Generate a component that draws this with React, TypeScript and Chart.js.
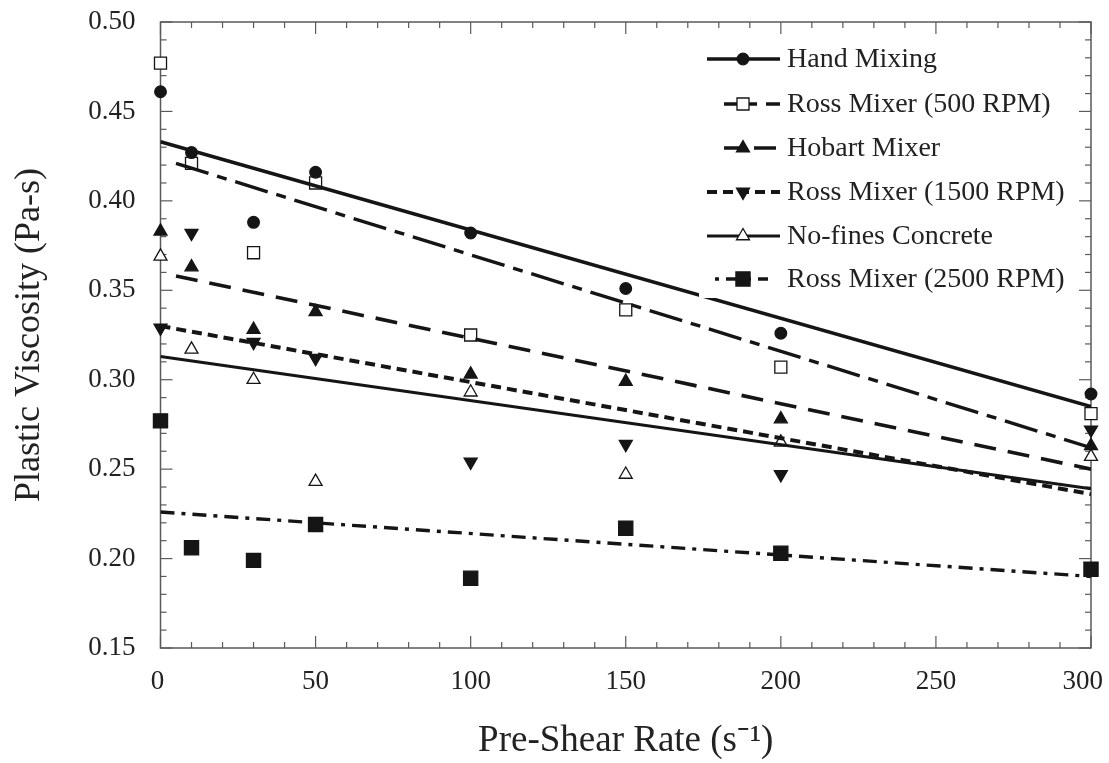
import React, { useEffect, useRef } from "react";
import { Chart, registerables } from "chart.js";

Chart.register(...registerables);

const FONT = "'Liberation Serif', 'Times New Roman', serif";
const INK = "#151515";

// ---- data ----
const preShearRates = [0, 10, 30, 50, 100, 150, 200, 300];
const handMixing = [0.461, 0.427, 0.388, 0.416, 0.382, 0.351, 0.326, 0.292];
const ross500 = [0.477, 0.421, 0.371, 0.410, 0.325, 0.339, 0.307, 0.281];
const hobart = [0.383, 0.363, 0.328, 0.338, 0.303, 0.299, 0.278, 0.263];
const ross1500 = [0.329, 0.382, 0.321, 0.312, 0.254, 0.264, 0.247, 0.272];
const noFines = [0.369, 0.317, 0.300, 0.243, 0.293, 0.247, 0.265, 0.257];
const ross2500 = [0.277, 0.206, 0.199, 0.219, 0.189, 0.217, 0.203, 0.194];

// linear fit lines: [start, end]
const handFitX = [0, 300];
const handFitY = [0.433, 0.285];
const ross500FitX = [5, 300];
const ross500FitY = [0.421, 0.262];
const hobartFitX = [5, 300];
const hobartFitY = [0.358, 0.25];
const ross1500FitX = [0, 300];
const ross1500FitY = [0.33, 0.236];
const noFinesFitX = [0, 300];
const noFinesFitY = [0.313, 0.239];
const ross2500FitX = [0, 300];
const ross2500FitY = [0.226, 0.19];

const seriesNames = [
  "Hand Mixing",
  "Ross Mixer (500 RPM)",
  "Hobart Mixer",
  "Ross Mixer (1500 RPM)",
  "No-fines Concrete",
  "Ross Mixer (2500 RPM)",
];
const xTicks = [0, 50, 100, 150, 200, 250, 300];
const yTicks = [0.15, 0.2, 0.25, 0.3, 0.35, 0.4, 0.45, 0.5];

// ---- styles ----
type Marker = { style: string; rotation: number; radius: number; fill: string };
const markers: Marker[] = [
  { style: "circle", rotation: 0, radius: 5.8, fill: INK },
  { style: "rect", rotation: 0, radius: 8.5, fill: "#ffffff" },
  { style: "triangle", rotation: 0, radius: 7.5, fill: INK },
  { style: "triangle", rotation: 180, radius: 7.5, fill: INK },
  { style: "triangle", rotation: 0, radius: 7.5, fill: "#ffffff" },
  { style: "rect", rotation: 0, radius: 10, fill: INK },
];
const lineDashes: number[][] = [[], [34, 9, 10, 9], [22, 12], [10, 6], [], [14, 7, 4, 7]];
const lineWidths = [3.6, 3.4, 3.6, 4, 3, 3.4];

const toPts = (xs: number[], ys: number[]) => xs.map((x, i) => ({ x, y: ys[i] }));

function drawMarker(ctx: CanvasRenderingContext2D, m: Marker, x: number, y: number) {
  ctx.save();
  ctx.setLineDash([]);
  ctx.lineWidth = 1.3;
  ctx.strokeStyle = INK;
  ctx.fillStyle = m.fill;
  ctx.beginPath();
  if (m.style === "circle") {
    ctx.arc(x, y, m.radius, 0, Math.PI * 2);
  } else if (m.style === "rect") {
    const s = Math.SQRT1_2 * m.radius;
    ctx.rect(x - s, y - s, 2 * s, 2 * s);
  } else {
    let rad = (m.rotation * Math.PI) / 180;
    ctx.moveTo(x + Math.sin(rad) * m.radius, y - Math.cos(rad) * m.radius);
    rad += (2 * Math.PI) / 3;
    ctx.lineTo(x + Math.sin(rad) * m.radius, y - Math.cos(rad) * m.radius);
    rad += (2 * Math.PI) / 3;
    ctx.lineTo(x + Math.sin(rad) * m.radius, y - Math.cos(rad) * m.radius);
    ctx.closePath();
  }
  ctx.fill();
  ctx.stroke();
  ctx.restore();
}

const framePlugin = {
  id: "frameTicks",
  beforeDatasetsDraw(chart: any) {
    const { ctx, chartArea: a, scales } = chart;
    const x = scales.x;
    const y = scales.y;
    ctx.save();
    ctx.strokeStyle = "#5a5a5a";
    ctx.lineWidth = 1.5;
    ctx.strokeRect(a.left, a.top, a.right - a.left, a.bottom - a.top);
    ctx.lineWidth = 1.2;
    const seg = (x1: number, y1: number, x2: number, y2: number) => {
      ctx.beginPath();
      ctx.moveTo(x1, y1);
      ctx.lineTo(x2, y2);
      ctx.stroke();
    };
    for (let i = 0; i <= 30; i++) {
      const px = x.getPixelForValue(i * 10);
      const len = i % 5 === 0 ? 12 : 6;
      seg(px, a.bottom, px, a.bottom - len);
      seg(px, a.top, px, a.top + len);
    }
    for (let i = 0; i <= 35; i++) {
      const py = y.getPixelForValue(0.15 + i * 0.01);
      const len = i % 5 === 0 ? 12 : 6;
      seg(a.left, py, a.left + len, py);
      seg(a.right, py, a.right - len, py);
    }
    // x tick labels (last one pulled inside the canvas, as in the reference)
    ctx.fillStyle = "#222";
    ctx.font = `27px ${FONT}`;
    ctx.textBaseline = "middle";
    xTicks.forEach((v, i) => {
      const px = x.getPixelForValue(v);
      if (i === xTicks.length - 1) {
        ctx.textAlign = "right";
        ctx.fillText(String(v), px + 12, a.bottom + 34);
      } else {
        ctx.textAlign = "center";
        ctx.fillText(String(v), px - (i === 0 ? 3 : 0), a.bottom + 34);
      }
    });
    ctx.restore();
  },
  afterDatasetsDraw(chart: any) {
    const { ctx, chartArea: a } = chart;
    ctx.save();
    ctx.fillStyle = "#ffffff";
    ctx.fillRect(699, a.top + 13, a.right - 13 - 699, 298 - a.top - 13);
    const rowY = [59, 104, 148, 192, 236, 279];
    seriesNames.forEach((name, i) => {
      const yy = rowY[i];
      ctx.save();
      ctx.strokeStyle = INK;
      ctx.lineWidth = lineWidths[i];
      ctx.setLineDash(lineDashes[i]);
      ctx.lineDashOffset = i === 1 ? 20 : i === 2 ? 4 : i === 5 ? 18 : 0;
      ctx.beginPath();
      ctx.moveTo(i === 1 || i === 2 ? 724 : i === 5 ? 712 : 707, yy);
      ctx.lineTo(i === 5 ? 768 : 780, yy);
      ctx.stroke();
      ctx.restore();
      drawMarker(ctx, markers[i], 743, yy);
      ctx.fillStyle = "#222";
      ctx.font = `28px ${FONT}`;
      ctx.textBaseline = "middle";
      ctx.textAlign = "left";
      ctx.fillText(name, 787, yy + 1);
    });
    ctx.restore();
  },
};

export default function App() {
  const ref = useRef<HTMLCanvasElement | null>(null);

  useEffect(() => {
    if (!ref.current) return;
    const pointSets = [handMixing, ross500, hobart, ross1500, noFines, ross2500];
    const fits = [
      [handFitX, handFitY],
      [ross500FitX, ross500FitY],
      [hobartFitX, hobartFitY],
      [ross1500FitX, ross1500FitY],
      [noFinesFitX, noFinesFitY],
      [ross2500FitX, ross2500FitY],
    ];
    const datasets: any[] = [];
    fits.forEach(([fx, fy], i) => {
      datasets.push({
        label: seriesNames[i] + " fit",
        data: toPts(fx, fy),
        showLine: true,
        borderColor: INK,
        borderWidth: lineWidths[i],
        borderDash: lineDashes[i],
        pointRadius: 0,
        fill: false,
      });
    });
    pointSets.forEach((vals, i) => {
      const m = markers[i];
      datasets.push({
        label: seriesNames[i],
        data: toPts(preShearRates, vals),
        showLine: false,
        pointStyle: m.style,
        pointRotation: m.rotation,
        pointRadius: m.radius,
        pointBackgroundColor: m.fill,
        pointBorderColor: INK,
        pointBorderWidth: 1.3,
        clip: false,
      });
    });

    const chart = new Chart(ref.current, {
      type: "scatter",
      data: { datasets },
      plugins: [framePlugin],
      options: {
        animation: false,
        responsive: false,
        layout: { padding: 0 },
        plugins: { legend: { display: false }, tooltip: { enabled: false } },
        scales: {
          x: {
            type: "linear",
            min: 0,
            max: 300,
            afterBuildTicks: (s: any) => {
              s.ticks = xTicks.map((v) => ({ value: v }));
            },
            afterFit: (s: any) => {
              s.height = 115;
              s.paddingLeft = 0;
              s.paddingRight = 18;
            },
            grid: { display: false, drawTicks: false },
            border: { display: false },
            ticks: { display: false },
            title: {
              display: true,
              text: "Pre-Shear Rate (s\u207B\u00B9)",
              color: "#222",
              font: { family: FONT, size: 37 },
              padding: { top: 0, bottom: 0 },
            },
          },
          y: {
            type: "linear",
            min: 0.15,
            max: 0.5,
            afterBuildTicks: (s: any) => {
              s.ticks = yTicks.map((v) => ({ value: v }));
            },
            afterFit: (s: any) => {
              s.width = 160.5;
              s.paddingTop = 22;
              s.paddingBottom = 0;
            },
            grid: { display: false, drawTicks: false },
            border: { display: false },
            ticks: {
              color: "#222",
              padding: 25,
              font: { family: FONT, size: 27 },
              callback: (v: any) => Number(v).toFixed(2),
            },
            title: {
              display: true,
              text: "Plastic Viscosity (Pa-s)",
              color: "#222",
              font: { family: FONT, size: 36 },
              padding: { top: 8, bottom: 0 },
            },
          },
        },
      },
    });
    return () => chart.destroy();
  }, []);

  return (
    <div style={{ position: "fixed", left: 0, top: 0, width: 1109, height: 763, background: "#fff" }}>
      <canvas ref={ref} width={1109} height={763} style={{ width: 1109, height: 763, display: "block" }} />
    </div>
  );
}
